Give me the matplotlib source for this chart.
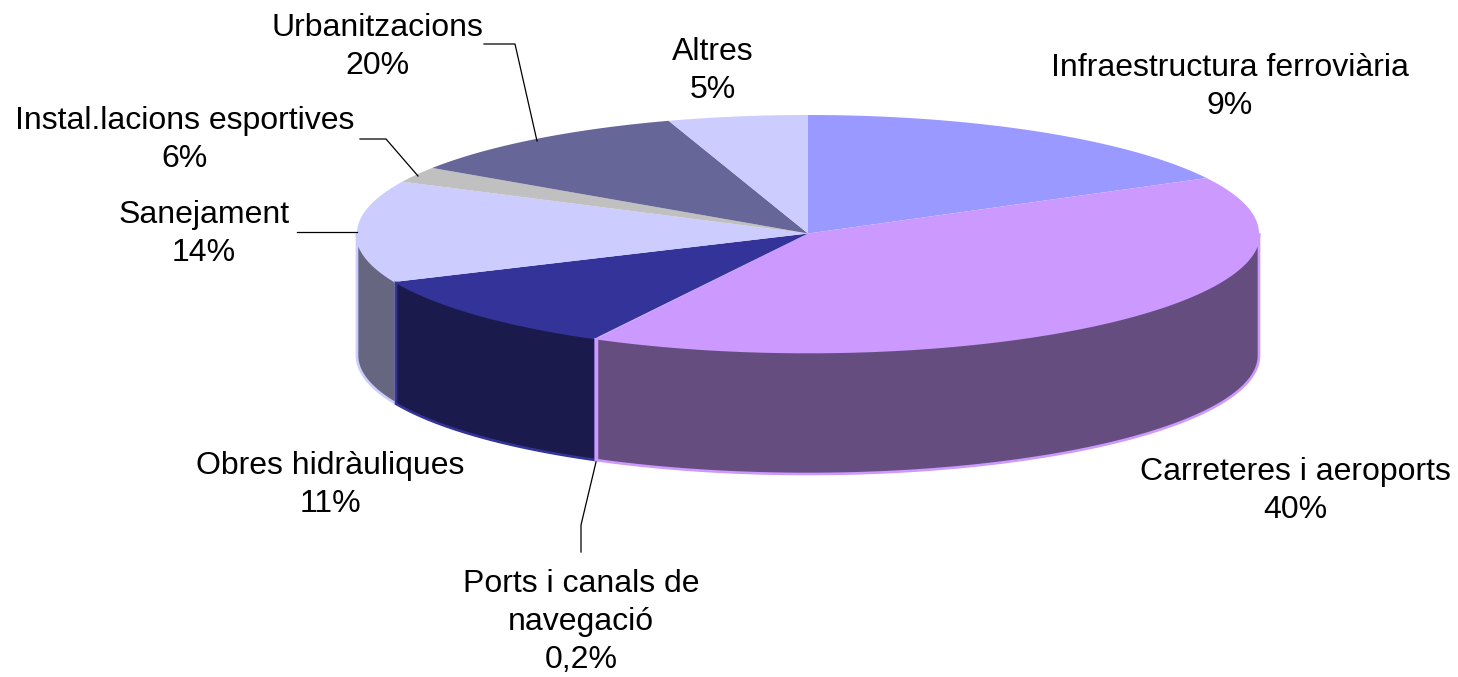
import numpy as np
import matplotlib
matplotlib.use("Agg")
import matplotlib.pyplot as plt
from matplotlib.patches import Polygon

plt.rcParams['font.family'] = ['Liberation Sans', 'DejaVu Sans']

# Slices, clockwise from the top. Sizes are what the drawing shows, the
# printed percentages in the source do not add up to the same thing
categories = ['Infraestructura ferroviària', 'Carreteres i aeroports', 'Ports i canals de\nnavegació',
              'Obres hidràuliques', 'Sanejament', 'Instal.lacions esportives', 'Urbanitzacions', 'Altres']
label_pct = ['9%', '40%', '0,2%', '11%', '14%', '6%', '20%', '5%']
drawn_share = [17.25, 40.5, 0.05, 10.53, 13.87, 2.13, 10.67, 5.0]
top_colors = ['#9999ff', '#cc99ff', '#cc99ff', '#333399', '#ccccff', '#c0c0c0', '#666699', '#ccccff']
wall_colors = ['#4d4d80', '#664d7f', '#664d7f', '#1a1a4d', '#666680', '#606060', '#33334d', '#666680']

# label centres
label_x = [1230, 1295, 581, 330, 204, 185, 377, 713]
label_y = [87, 491, 622, 485, 234, 140, 47, 71]

# leader lines
leaders = {
    'Urbanitzacions': ([484, 515, 537], [44, 44, 141]),
    'Instal': ([360, 386, 418], [139, 139, 176]),
    'Sanejament': ([297, 357], [232, 232]),
    'Ports': ([581, 581, 596], [552, 525, 462]),
}

cx, cy = 808, 233.5
rx, ry = 451, 118.5
depth = 122


def rim(a0, a1, n=120):
    t = np.radians(np.linspace(a0, a1, n))
    return cx + rx * np.cos(t), cy - ry * np.sin(t)


fig = plt.figure(figsize=(14.58, 6.77), dpi=100)
ax = fig.add_axes([0, 0, 1, 1])
ax.set_xlim(0, 1458)
ax.set_ylim(677, 0)
ax.axis('off')

shares = np.array(drawn_share) / sum(drawn_share)
ends = 90 - 360 * np.cumsum(shares)
starts = np.concatenate(([90], ends[:-1]))

# walls first, only the part of each slice facing front, left ones underneath
order = range(len(shares) - 1, -1, -1)
for i in order:
    hi_raw = starts[i] % 360
    lo_raw = ends[i] % 360
    if hi_raw < lo_raw:  # crosses 0 degrees
        lo_raw, hi_raw = lo_raw, 360
    lo = max(lo_raw, 180)
    hi = min(hi_raw, 360)
    if hi <= lo:
        continue
    x, y = rim(hi, lo)
    xs = np.concatenate((x, x[::-1]))
    ys = np.concatenate((y, y[::-1] + depth))
    ax.add_patch(Polygon(np.column_stack((xs, ys)), closed=True, facecolor=wall_colors[i],
                         edgecolor=top_colors[i], lw=1.9, zorder=2))

# top face
for a0, a1, top in zip(starts, ends, top_colors):
    x, y = rim(a0, a1)
    xs = np.concatenate(([cx], x))
    ys = np.concatenate(([cy], y))
    ax.add_patch(Polygon(np.column_stack((xs, ys)), closed=True, facecolor=top, edgecolor='none', zorder=3))

for name, (lx, ly) in leaders.items():
    ax.plot(lx, ly, color='black', lw=0.9, zorder=4, solid_joinstyle='miter')

for cat, pct, x, y in zip(categories, label_pct, label_x, label_y):
    ax.text(x, y, cat + '\n' + pct, ha='center', va='center', multialignment='center',
            fontsize=23.0, linespacing=1.35, color='black', zorder=5)

fig.savefig('out.png', dpi=100)
